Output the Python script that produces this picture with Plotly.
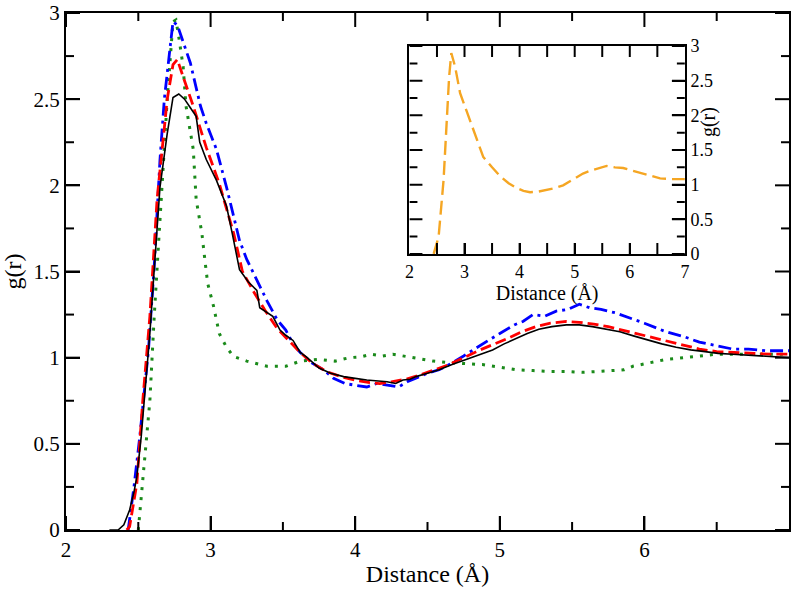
import plotly.graph_objects as go

# ---- data ----
black_x = [2.30, 2.36, 2.40, 2.44, 2.47, 2.49, 2.52, 2.55, 2.58, 2.61, 2.65, 2.70, 2.74, 2.78, 2.82, 2.86, 2.90, 2.925, 2.97, 3.04, 3.11, 3.15, 3.20, 3.26, 3.32, 3.34, 3.39, 3.43, 3.48, 3.52, 3.57, 3.62, 3.66, 3.75, 3.83, 3.92, 4.00, 4.08, 4.16, 4.22, 4.28, 4.33, 4.38, 4.42, 4.50, 4.58, 4.67, 4.77, 4.86, 4.95, 5.03, 5.11, 5.19, 5.27, 5.36, 5.46, 5.55, 5.64, 5.74, 5.83, 5.93, 6.03, 6.12, 6.22, 6.32, 6.42, 6.51, 6.61, 6.72, 6.84, 6.92, 7.0]
black_y = [0.0, 0.0, 0.03, 0.116, 0.22, 0.31, 0.54, 0.85, 1.14, 1.51, 1.99, 2.30, 2.51, 2.53, 2.50, 2.45, 2.40, 2.25, 2.15, 2.03, 1.88, 1.72, 1.51, 1.44, 1.39, 1.29, 1.26, 1.24, 1.16, 1.13, 1.10, 1.03, 1.006, 0.94, 0.91, 0.89, 0.88, 0.87, 0.865, 0.86, 0.85, 0.87, 0.875, 0.89, 0.91, 0.93, 0.96, 0.99, 1.02, 1.045, 1.08, 1.11, 1.14, 1.165, 1.18, 1.19, 1.19, 1.18, 1.165, 1.15, 1.125, 1.10, 1.08, 1.06, 1.045, 1.035, 1.025, 1.02, 1.015, 1.01, 1.005, 1.0]

red_x = [2.42, 2.44, 2.49, 2.53, 2.58, 2.63, 2.67, 2.70, 2.74, 2.77, 2.81, 2.88, 2.97, 3.06, 3.16, 3.22, 3.30, 3.38, 3.46, 3.55, 3.62, 3.70, 3.80, 3.90, 4.00, 4.10, 4.17, 4.25, 4.35, 4.45, 4.55, 4.65, 4.75, 4.85, 4.95, 5.05, 5.15, 5.25, 5.35, 5.46, 5.55, 5.65, 5.75, 5.85, 5.95, 6.05, 6.15, 6.25, 6.38, 6.50, 6.62, 6.75, 6.87, 7.0]
red_y = [0.0, 0.02, 0.27, 0.74, 1.24, 1.92, 2.25, 2.50, 2.70, 2.73, 2.63, 2.46, 2.22, 2.01, 1.72, 1.50, 1.38, 1.27, 1.17, 1.09, 1.03, 0.97, 0.92, 0.89, 0.87, 0.855, 0.85, 0.86, 0.875, 0.90, 0.93, 0.96, 1.00, 1.04, 1.075, 1.11, 1.15, 1.18, 1.20, 1.21, 1.205, 1.195, 1.18, 1.16, 1.14, 1.12, 1.10, 1.08, 1.05, 1.035, 1.03, 1.025, 1.02, 1.02]

blue_x = [2.43, 2.47, 2.51, 2.57, 2.61, 2.65, 2.68, 2.72, 2.74, 2.77, 2.81, 2.86, 2.93, 2.97, 3.04, 3.11, 3.20, 3.25, 3.32, 3.39, 3.46, 3.52, 3.57, 3.62, 3.70, 3.78, 3.85, 3.93, 4.00, 4.08, 4.15, 4.22, 4.30, 4.36, 4.42, 4.50, 4.58, 4.65, 4.75, 4.84, 4.92, 5.00, 5.10, 5.16, 5.23, 5.31, 5.39, 5.47, 5.55, 5.62, 5.70, 5.80, 5.90, 6.00, 6.15, 6.28, 6.38, 6.50, 6.61, 6.72, 6.84, 6.95, 7.0]
blue_y = [0.0, 0.25, 0.54, 1.04, 1.53, 2.15, 2.50, 2.79, 2.95, 2.93, 2.83, 2.71, 2.46, 2.36, 2.21, 1.99, 1.68, 1.57, 1.45, 1.33, 1.22, 1.16, 1.08, 1.03, 0.97, 0.93, 0.88, 0.85, 0.84, 0.83, 0.85, 0.84, 0.83, 0.86, 0.88, 0.91, 0.93, 0.96, 1.01, 1.06, 1.10, 1.14, 1.19, 1.21, 1.25, 1.24, 1.27, 1.28, 1.31, 1.29, 1.28, 1.26, 1.23, 1.20, 1.15, 1.12, 1.09, 1.07, 1.05, 1.05, 1.04, 1.04, 1.04]

green_x = [2.50, 2.53, 2.58, 2.61, 2.65, 2.70, 2.74, 2.76, 2.78, 2.81, 2.83, 2.88, 2.90, 2.94, 2.96, 2.98, 3.02, 3.06, 3.11, 3.16, 3.25, 3.39, 3.52, 3.62, 3.75, 3.86, 3.96, 4.04, 4.11, 4.19, 4.26, 4.33, 4.40, 4.47, 4.54, 4.67, 4.78, 4.88, 5.00, 5.11, 5.23, 5.35, 5.46, 5.57, 5.69, 5.80, 5.86, 5.92, 6.04, 6.15, 6.27, 6.38, 6.50, 6.61, 6.73, 6.85, 7.0]
green_y = [0.0, 0.27, 0.75, 1.24, 1.82, 2.50, 2.95, 2.96, 2.86, 2.69, 2.46, 2.21, 1.92, 1.72, 1.57, 1.43, 1.30, 1.14, 1.06, 1.006, 0.98, 0.95, 0.95, 0.98, 0.99, 0.98, 1.00, 1.005, 1.02, 1.01, 1.02, 1.01, 1.00, 0.99, 0.98, 0.97, 0.965, 0.96, 0.945, 0.93, 0.925, 0.92, 0.92, 0.915, 0.92, 0.925, 0.93, 0.95, 0.97, 0.99, 1.00, 1.01, 1.02, 1.02, 1.02, 1.02, 1.02]

orange_x = [2.44, 2.53, 2.62, 2.68, 2.72, 2.76, 2.80, 2.83, 2.92, 3.02, 3.13, 3.23, 3.34, 3.50, 3.65, 3.80, 3.95, 4.07, 4.19, 4.34, 4.49, 4.64, 4.79, 4.97, 5.15, 5.28, 5.40, 5.50, 5.58, 5.73, 5.88, 6.06, 6.24, 6.40, 6.55, 6.75, 6.97, 7.0]
orange_y = [0.0, 0.25, 1.07, 2.03, 2.55, 2.90, 2.80, 2.70, 2.32, 2.10, 1.84, 1.62, 1.40, 1.25, 1.12, 1.02, 0.95, 0.91, 0.89, 0.90, 0.92, 0.95, 0.99, 1.07, 1.16, 1.20, 1.23, 1.25, 1.27, 1.25, 1.24, 1.20, 1.16, 1.12, 1.09, 1.08, 1.08, 1.08]

# tick values / labels
main_xticks = [2, 3, 4, 5, 6]
main_xminor = [2.5, 3.5, 4.5, 5.5, 6.5]
main_yticks = [0, 0.5, 1, 1.5, 2, 2.5, 3]
main_ytick_text = ["0", "0.5", "1", "1.5", "2", "2.5", "3"]
main_yminor = [0.25, 0.75, 1.25, 1.75, 2.25, 2.75]
inset_xticks = [2, 3, 4, 5, 6, 7]
inset_xmarks = [2.5, 3, 3.5, 4, 4.5, 5, 5.5, 6, 6.5]
inset_yticks = [0, 0.5, 1, 1.5, 2, 2.5, 3]
inset_ytick_text = ["0", "0.5", "1", "1.5", "2", "2.5", "3"]
inset_yminor = [0.25, 0.75, 1.25, 1.75, 2.25, 2.75]

FONT = "Liberation Serif, Times New Roman, DejaVu Serif, serif"

X_RANGE = [2, 7]
Y_RANGE = [0, 3]
MAIN_DOM_X = [0, 1]
MAIN_DOM_Y = [0, 1]
INSET_DOM_X = [0.475, 0.856]
INSET_DOM_Y = [0.534, 0.936]

W, H = 800, 592
M = dict(l=66, r=11, t=13, b=62)
PLOT_W = W - M["l"] - M["r"]
PLOT_H = H - M["t"] - M["b"]

fig = go.Figure()
fig.add_trace(go.Scatter(x=green_x, y=green_y, mode="lines",
                         line=dict(color="#1a8a1a", width=3, dash="3px,7px"), showlegend=False))
fig.add_trace(go.Scatter(x=blue_x, y=blue_y, mode="lines",
                         line=dict(color="#0000ff", width=2.8, dash="13px,5px,3px,5px"), showlegend=False))
fig.add_trace(go.Scatter(x=red_x, y=red_y, mode="lines",
                         line=dict(color="#ff0000", width=2.8, dash="11px,5px"), showlegend=False))
fig.add_trace(go.Scatter(x=black_x, y=black_y, mode="lines",
                         line=dict(color="black", width=1.6), showlegend=False))
fig.add_trace(go.Scatter(x=orange_x, y=orange_y, mode="lines", xaxis="x2", yaxis="y2",
                         line=dict(color="#f5a623", width=2.4, dash="14px,6px"), showlegend=False))


def frame_ticks(xr, yr, dom_x, dom_y, xvals, yvals, xlen, ylen):
    """Inward tick segments on all four sides of a frame; lengths in pixels
    converted to data units through the axis scale."""
    px_per_x = PLOT_W * (dom_x[1] - dom_x[0]) / (xr[1] - xr[0])
    px_per_y = PLOT_H * (dom_y[1] - dom_y[0]) / (yr[1] - yr[0])
    dy = xlen / px_per_y
    dx = ylen / px_per_x
    xs, ys = [], []
    for v in xvals:
        xs += [v, v, None, v, v, None]
        ys += [yr[0], yr[0] + dy, None, yr[1], yr[1] - dy, None]
    for v in yvals:
        xs += [xr[0], xr[0] + dx, None, xr[1], xr[1] - dx, None]
        ys += [v, v, None, v, v, None]
    return xs, ys


tick_sets = [
    (main_xticks, main_yticks, 14, 14, ("x", "y"), MAIN_DOM_X, MAIN_DOM_Y),
    (main_xminor, main_yminor, 8, 8, ("x", "y"), MAIN_DOM_X, MAIN_DOM_Y),
    (inset_xmarks, inset_yticks, 11, 13, ("x2", "y2"), INSET_DOM_X, INSET_DOM_Y),
    ([], inset_yminor, 0, 8, ("x2", "y2"), INSET_DOM_X, INSET_DOM_Y),
]
for xv, yv, lx, ly, (xa, ya), dx_, dy_ in tick_sets:
    tx, ty = frame_ticks(X_RANGE, Y_RANGE, dx_, dy_, xv, yv, lx, ly)
    fig.add_trace(go.Scatter(x=tx, y=ty, mode="lines", xaxis=xa, yaxis=ya,
                             line=dict(color="black", width=2, simplify=False),
                             hoverinfo="skip", cliponaxis=False, showlegend=False))


def base(**kw):
    d = dict(showgrid=False, zeroline=False, automargin=False, fixedrange=True,
             ticks="inside", tickcolor="black", tickwidth=2,
             showline=True, linecolor="black", linewidth=2, mirror=True)
    d.update(kw)
    return d


fig.update_layout(
    template="simple_white",
    width=W, height=H,
    margin=M,
    paper_bgcolor="white", plot_bgcolor="white",
    font=dict(family=FONT, color="black"),
    xaxis=base(range=X_RANGE, tickmode="array", tickvals=main_xticks, ticklen=14,
               domain=MAIN_DOM_X,
               tickfont=dict(family=FONT, size=21, color="black"),
               title=dict(text="Distance (Å)", font=dict(family=FONT, size=24), standoff=4)),
    yaxis=base(range=Y_RANGE, tickmode="array", tickvals=main_yticks, ticktext=main_ytick_text,
               ticklen=14, domain=MAIN_DOM_Y,
               tickfont=dict(family=FONT, size=21, color="black"),
               title=dict(text="g(r)", font=dict(family=FONT, size=24), standoff=10)),
    xaxis2=base(range=X_RANGE, tickmode="array", tickvals=inset_xticks, ticklen=11, anchor="y2",
                domain=INSET_DOM_X,
                tickfont=dict(family=FONT, size=18, color="black"),
                title=dict(text="Distance (Å)", font=dict(family=FONT, size=20), standoff=0)),
    yaxis2=base(range=Y_RANGE, tickmode="array", tickvals=inset_yticks, ticktext=inset_ytick_text,
                ticklen=13, anchor="x2", side="right", domain=INSET_DOM_Y,
                tickfont=dict(family=FONT, size=18, color="black")),
    annotations=[dict(text="g(r)", xref="paper", yref="paper", x=0.888, y=0.789,
                      textangle=-90, showarrow=False, xanchor="center", yanchor="middle",
                      font=dict(family=FONT, size=20, color="black"))],
)

fig.write_html("out.html", config={"displayModeBar": False},
               post_script="document.body.style.margin='0px';")
